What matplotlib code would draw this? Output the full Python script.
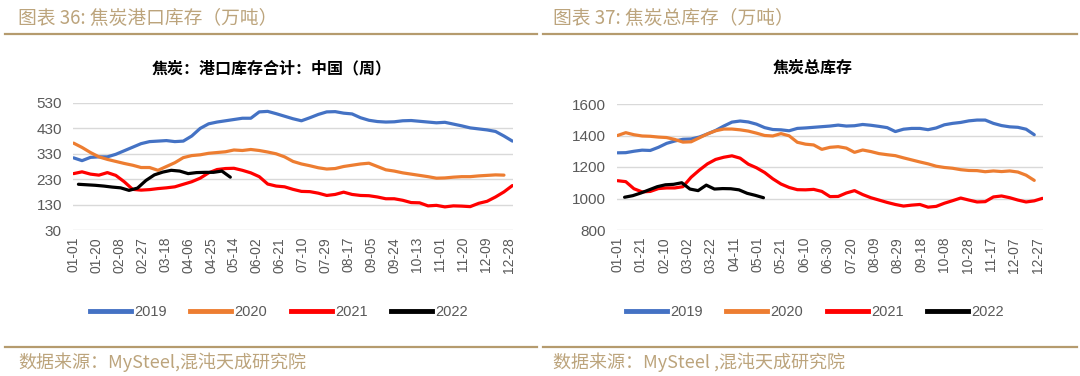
import matplotlib
matplotlib.use("Agg")
import matplotlib.pyplot as plt
from matplotlib.lines import Line2D
import numpy as np
import pandas as pd

plt.rcParams['font.family'] = ['Liberation Sans', 'Noto Sans CJK SC', 'DejaVu Sans']

# ---------------- data ----------------
years = ['2019', '2020', '2021', '2022']
colors = ['#4472C4', '#ED7D31', '#FF0000', '#000000']

# chart 36: port inventory (weekly)
port_start = ['01-01', '01-01', '01-01', '01-05']
port_2019 = [314, 303, 316, 318, 318, 328, 342, 356, 370, 378, 380, 382, 378, 380, 400, 430,
             448, 455, 460, 465, 470, 470, 495, 497, 488, 478, 468, 460, 472, 485, 495, 496,
             490, 487, 472, 462, 457, 455, 456, 460, 461, 458, 455, 452, 454, 447, 440, 432,
             428, 424, 418, 400, 380]
port_2020 = [372, 355, 335, 318, 308, 300, 292, 285, 276, 276, 265, 280, 295, 315, 323, 326,
             332, 335, 338, 345, 343, 347, 343, 337, 330, 318, 300, 290, 283, 275, 270, 272,
             280, 285, 290, 293, 280, 267, 262, 255, 250, 245, 240, 234, 235, 238, 240, 240,
             243, 245, 247, 246]
port_2021 = [252, 259, 250, 246, 256, 245, 220, 190, 187, 189, 193, 196, 200, 210, 220, 234,
             255, 268, 272, 273, 265, 255, 240, 211, 203, 200, 190, 182, 181, 175, 166, 170,
             179, 170, 166, 165, 160, 153, 153, 147, 138, 137, 125, 127, 121, 125, 124, 122,
             135, 143, 160, 180, 205]
port_2022 = [210, 208, 206, 203, 199, 196, 186, 195, 225, 247, 258, 265, 262, 252, 256, 257,
             257, 262, 238]
port_ticks = ['01-01', '01-20', '02-08', '02-27', '03-18', '04-06', '04-25', '05-14', '06-02',
              '06-21', '07-10', '07-29', '08-17', '09-05', '09-24', '10-13', '11-01', '11-20',
              '12-09', '12-28']
port_yticks = [30, 130, 230, 330, 430, 530]

# chart 37: total inventory (weekly)
total_start = ['01-01', '01-01', '01-01', '01-07']
total_2019 = [1290, 1291, 1300, 1307, 1305, 1325, 1350, 1365, 1376, 1378, 1390, 1410, 1432, 1460,
              1485, 1492, 1486, 1472, 1450, 1438, 1436, 1430, 1445, 1448, 1452, 1456, 1460, 1466,
              1460, 1462, 1470, 1465, 1458, 1450, 1425, 1440, 1445, 1445, 1437, 1448, 1468, 1477,
              1483, 1493, 1498, 1498, 1477, 1463, 1455, 1452, 1440, 1405]
total_2020 = [1400, 1418, 1405, 1397, 1395, 1390, 1387, 1375, 1358, 1360, 1385, 1410, 1430, 1441,
              1441, 1436, 1428, 1415, 1400, 1397, 1412, 1398, 1357, 1345, 1340, 1312, 1325, 1329,
              1320, 1293, 1308, 1298, 1285, 1278, 1272, 1258, 1245, 1232, 1220, 1205, 1197, 1192,
              1183, 1178, 1177, 1170, 1175, 1171, 1175, 1168, 1148, 1115]
total_2021 = [1113, 1107, 1062, 1042, 1045, 1063, 1067, 1067, 1075, 1135, 1180, 1220, 1248, 1262,
              1271, 1256, 1218, 1195, 1165, 1125, 1092, 1070, 1056, 1055, 1058, 1045, 1012, 1013,
              1035, 1050, 1025, 1005, 990, 975, 962, 952, 958, 962, 945, 950, 970, 986, 1003, 990,
              978, 980, 1010, 1016, 1005, 990, 978, 985, 1001]
total_2022 = [1008, 1018, 1035, 1055, 1075, 1087, 1090, 1100, 1060, 1050, 1085, 1060, 1063, 1062,
              1055, 1033, 1020, 1005]
total_ticks = ['01-01', '01-21', '02-10', '03-02', '03-22', '04-11', '05-01', '05-21', '06-10',
               '06-30', '07-20', '08-09', '08-29', '09-18', '10-08', '10-28', '11-17', '12-07',
               '12-27']
total_yticks = [800, 1000, 1200, 1400, 1600]

GOLD = '#BCA47C'
LINEGOLD = '#B59B6E'
GRID = '#D9D9D9'
TICK = '#595959'
W, H = 1080, 376
CJK = ['Noto Sans CJK SC', 'DejaVu Sans']


def doy(mmdd):
    return pd.Timestamp('2019-' + mmdd).dayofyear - 1


def weekly_days(start, n):
    return doy(start) + 7 * np.arange(n)


def rect(x0, y0, x1, y1):
    return [x0 / W, 1 - y1 / H, (x1 - x0) / W, (y1 - y0) / H]


fig = plt.figure(figsize=(W / 100, H / 100), dpi=100)


def draw(ax, series, starts, ticks, yticks):
    for vals, st, c in zip(series, starts, colors):
        ax.plot(weekly_days(st, len(vals)), vals, color=c, lw=2.3,
                solid_joinstyle='round', solid_capstyle='round', zorder=3)
    ax.set_xlim(-0.5, 364.5)
    ax.set_ylim(yticks[0], yticks[-1])
    ax.set_yticks(yticks)
    ax.set_xticks([doy(t) for t in ticks])
    ax.set_xticklabels(ticks, rotation=90, fontsize=10, color=TICK)
    ax.tick_params(axis='y', labelsize=11, colors=TICK, length=0, pad=8)
    ax.tick_params(axis='x', length=0, pad=5)
    ax.grid(axis='y', color=GRID, lw=1)
    ax.set_axisbelow(True)
    for s in ax.spines.values():
        s.set_visible(False)


ax1 = fig.add_axes(rect(73, 103, 513, 230))
draw(ax1, [port_2019, port_2020, port_2021, port_2022], port_start, port_ticks, port_yticks)
ax2 = fig.add_axes(rect(617, 104, 1043, 230))
draw(ax2, [total_2019, total_2020, total_2021, total_2022], total_start, total_ticks, total_yticks)

# legends
handles = [Line2D([], [], color=c, lw=3.5) for c in colors]
for cx in (279 / W, 815 / W):
    leg = fig.legend(handles, years, loc='center', bbox_to_anchor=(cx, 1 - 312 / H), ncol=4,
                     frameon=False, handlelength=2.8, handletextpad=0.25,
                     columnspacing=1.6,
                     prop={'family': ['Liberation Sans Narrow', 'Liberation Sans'], 'size': 10.5})
    for t in leg.get_texts():
        t.set_color(TICK)

# chart titles
fig.text(272 / W, 1 - 68 / H, '焦炭：港口库存合计：中国（周）', ha='center', va='center',
         fontsize=11.5, fontweight='bold', family=CJK)
fig.text(813 / W, 1 - 68 / H, '焦炭总库存', ha='center', va='center',
         fontsize=11.5, fontweight='bold', family=CJK)

# header / footer
fig.text(18 / W, 1 - 18 / H, '图表 36: 焦炭港口库存（万吨）', ha='left', va='center',
         fontsize=13.5, color=GOLD, family=CJK)
fig.text(553 / W, 1 - 18 / H, '图表 37: 焦炭总库存（万吨）', ha='left', va='center',
         fontsize=13.5, color=GOLD, family=CJK)
fig.text(18 / W, 1 - 362 / H, '数据来源：MySteel,混沌天成研究院', ha='left', va='center',
         fontsize=13, color=GOLD, family=CJK)
fig.text(553 / W, 1 - 362 / H, '数据来源：MySteel ,混沌天成研究院', ha='left', va='center',
         fontsize=13, color=GOLD, family=CJK)

for y in (34, 347):
    fig.add_artist(Line2D([5 / W, 537 / W], [1 - y / H] * 2, color=LINEGOLD, lw=1.6))
    fig.add_artist(Line2D([543 / W, 1077 / W], [1 - y / H] * 2, color=LINEGOLD, lw=1.6))

fig.savefig('out.png', dpi=100)
